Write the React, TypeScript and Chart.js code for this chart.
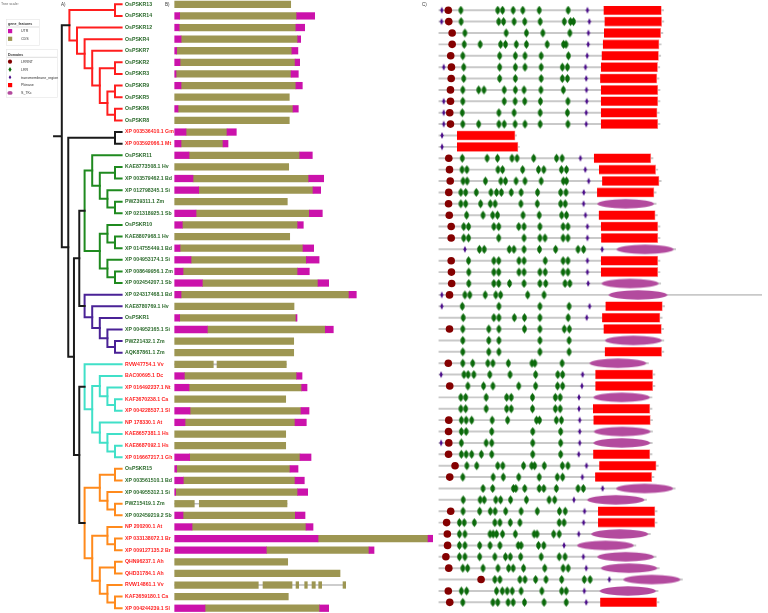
import React, { useEffect, useRef } from 'react';
import { Chart, registerables } from 'chart.js';
Chart.register(...registerables);

// ---------------- DATA ----------------
const NAMES = [
  'OsPSKR13', 'OsPSKR14', 'OsPSKR12', 'OsPSKR4', 'OsPSKR7', 'OsPSKR2', 'OsPSKR3', 'OsPSKR9', 'OsPSKR5', 'OsPSKR6', 'OsPSKR8',
  'XP 003536410.1 Gm', 'XP 003592066.1 Mt',
  'OsPSKR11', 'KAE8773508.1 Hv', 'XP 003579462.1 Bd', 'XP 012798345.1 Si', 'PWZ39311.1 Zm', 'XP 021318925.1 Sb',
  'OsPSKR10', 'KAE8807968.1 Hv', 'XP 014755449.1 Bd', 'XP 004953174.1 Si', 'XP 008649956.1 Zm', 'XP 002454207.1 Sb',
  'XP 024317468.1 Bd', 'KAE8780769.1 Hv', 'OsPSKR1', 'XP 004952165.1 Si', 'PWZ21432.1 Zm', 'AQK87861.1 Zm',
  'RVW47754.1 Vv', 'BAC00695.1 Dc', 'XP 016492237.1 Nt', 'KAF3670238.1 Ca', 'XP 004228537.1 Sl', 'NP 178330.1 At',
  'KAE8657381.1 Hs', 'KAE8687092.1 Hs', 'XP 016667217.1 Gh',
  'OsPSKR15', 'XP 003561510.1 Bd', 'XP 004955312.1 Si', 'PWZ15419.1 Zm', 'XP 002459219.2 Sb', 'NP 200200.1 At',
  'XP 033138072.1 Br', 'XP 009127135.2 Br', 'QHN96237.1 Ah', 'QHD31784.1 Ah', 'RVW14861.1 Vv', 'KAF3659180.1 Ca',
  'XP 004244239.1 Sl',
];
const MONOCOT_CODES = ['Hv', 'Bd', 'Si', 'Zm', 'Sb'];

// clade of each row: 0 red, 1 black, 2 green, 3 purple, 4 cyan, 5 orange
const CLADE_OF_ROW = [
  0, 0, 0, 0, 0, 0, 0, 0, 0, 0, 0,
  1, 1,
  2, 2, 2, 2, 2, 2, 2, 2, 2, 2, 2, 2,
  3, 3, 3, 3, 3, 3,
  4, 4, 4, 4, 4, 4, 4, 4, 4,
  5, 5, 5, 5, 5, 5, 5, 5, 5, 5, 5, 5, 5,
];

// topology (leaf = row index); ":h" after a clade = node depth override (cladogram levels)
const CLADE_RED = '((0,1),(2,(3,(4,((5,6),((7,8),(9,10)))))))';
const CLADE_BLACK = '(11,12)';
const CLADE_GREEN = '((13,((14,15),(16,(17,18)))),((19,(20,21)),(22,(23,24))))';
const CLADE_PURPLE = '(25,(26,(27,(28,(29,30)))))';
const CLADE_CYAN = '(31,((32,(33,(34,35))),(36,(37,(38,39)))))';
const CLADE_ORANGE = '(((40,41),(42,(43,44))),((45,(46,47)),((48,49),(50,(51,52)))))';
const TREE = `(${CLADE_RED},(${CLADE_BLACK},((${CLADE_GREEN},${CLADE_PURPLE}):5.7,(${CLADE_CYAN},${CLADE_ORANGE}):5.7):6.4):7.15):8`;

// gene structure: [type, start bp, end bp]  U = UTR, C = CDS
const GENE_SEGMENTS: [string, number, number][][] = [
  [['C', 0, 2900]],
  [['U', 0, 125], ['C', 125, 3050], ['U', 3050, 3500]],
  [['U', 0, 110], ['C', 110, 3030], ['U', 3030, 3250]],
  [['U', 0, 160], ['C', 160, 3075], ['U', 3075, 3150]],
  [['U', 0, 50], ['C', 50, 2930], ['U', 2930, 3080]],
  [['U', 0, 133], ['C', 133, 3010], ['U', 3010, 3125]],
  [['U', 0, 33], ['C', 33, 2910], ['U', 2910, 3090]],
  [['U', 0, 158], ['C', 158, 3030], ['U', 3030, 3190]],
  [['C', 0, 2865]],
  [['U', 0, 83], ['C', 83, 2958], ['U', 2958, 3090]],
  [['C', 0, 2865]],
  [['U', 0, 283], ['C', 283, 1308], ['U', 1308, 1540]],
  [['U', 0, 158], ['C', 158, 1208], ['U', 1208, 1333]],
  [['U', 0, 358], ['C', 358, 3125], ['U', 3125, 3440]],
  [['C', 0, 2850]],
  [['U', 0, 458], ['C', 458, 3350], ['U', 3350, 3725]],
  [['U', 0, 600], ['C', 600, 3458], ['U', 3458, 3650]],
  [['C', 0, 2815]],
  [['U', 0, 533], ['C', 533, 3365], ['U', 3365, 3690]],
  [['U', 0, 190], ['C', 190, 3075], ['U', 3075, 3215]],
  [['C', 0, 2875]],
  [['U', 0, 133], ['C', 133, 3208], ['U', 3208, 3475]],
  [['U', 0, 408], ['C', 408, 3290], ['U', 3290, 3610]],
  [['U', 0, 208], ['C', 208, 3075], ['U', 3075, 3365]],
  [['U', 0, 690], ['C', 690, 3583], ['U', 3583, 3850]],
  [['U', 0, 158], ['C', 158, 4358], ['U', 4358, 4540]],
  [['C', 0, 2983]],
  [['U', 0, 125], ['C', 125, 3033], ['U', 3033, 3058]],
  [['U', 0, 816], ['C', 816, 3765], ['U', 3765, 3965]],
  [['C', 0, 2975]],
  [['C', 0, 2975]],
  [['C', 0, 965], ['C', 1058, 2790]],
  [['U', 0, 240], ['C', 240, 3050], ['U', 3050, 3183]],
  [['U', 0, 358], ['C', 358, 3175], ['U', 3175, 3308]],
  [['C', 0, 2775]],
  [['U', 0, 383], ['C', 383, 3158], ['U', 3158, 3358]],
  [['U', 0, 258], ['C', 258, 3008], ['U', 3008, 3290]],
  [['C', 0, 2775]],
  [['C', 0, 2775]],
  [['U', 0, 375], ['C', 375, 3133], ['U', 3133, 3408]],
  [['U', 0, 50], ['C', 50, 2883], ['U', 2883, 3083]],
  [['U', 0, 215], ['C', 215, 3008], ['U', 3008, 3240]],
  [['U', 0, 25], ['C', 25, 3075], ['U', 3075, 3325]],
  [['C', 0, 490], ['C', 615, 2808]],
  [['U', 0, 208], ['C', 208, 3015], ['U', 3015, 3258]],
  [['U', 0, 433], ['C', 433, 3283], ['U', 3283, 3458]],
  [['U', 0, 3583], ['C', 3583, 6333], ['U', 6333, 6450]],
  [['U', 0, 2290], ['C', 2290, 4858], ['U', 4858, 4983]],
  [['C', 0, 2825]],
  [['C', 0, 4133]],
  [['C', 0, 2090], ['C', 2208, 2933], ['C', 3033, 3100], ['C', 3250, 3315], ['C', 3433, 3515], ['C', 3600, 3675], ['C', 4208, 4275]],
  [['C', 0, 2840]],
  [['U', 0, 758], ['C', 758, 3625], ['U', 3625, 3850]],
];

// protein domains (aa)
const PROTEIN_LEN = [
  932, 933, 929, 922, 920, 916, 913, 917, 917, 914, 917, 322, 334, 888, 908, 922, 901, 901, 906, 917, 917, 982, 917, 917, 920,
  1400, 936, 926, 932, 933, 933, 869, 896, 896, 884, 884, 886, 886, 885, 884, 910, 892, 980, 861, 905, 905, 877, 817, 901, 914,
  1010, 909, 913,
];
const LRRNT_POS = [
  39, 41, 55, 55, 49, 52, 51, 48, 48, 45, 48, null, null, 41, 44, 47, 41, 40, 43, 51, 51, null, 51, 52, 53, 44, null, null, 44,
  null, null, 39, null, 45, null, null, 41, 40, 41, 40, 67, 45, null, null, 49, 32, 35, 36, 29, 41, 175, 39, 45,
];
const LRR_POS = [
  [91, 244, 264, 308, 348, 416, 536],
  [92, 248, 268, 312, 356, 420, 520, 546, 558],
  [108, 279, 363, 431, 543],
  [105, 171, 256, 276, 321, 363, 449, 517, 527],
  [99, 252, 317, 357, 424, 537],
  [103, 252, 317, 357, 424, 512, 533],
  [103, 252, 317, 424, 512, 533],
  [99, 165, 187, 271, 317, 353, 423, 516],
  [99, 271, 316, 356, 421, 535],
  [97, 249, 312, 420, 533],
  [99, 165, 249, 271, 316, 357, 420, 535],
  [],
  [],
  [97, 200, 243, 303, 324, 393, 488, 511],
  [96, 116, 245, 264, 347, 413, 435, 508, 529],
  [100, 117, 193, 257, 276, 320, 357, 424, 516, 529],
  [91, 111, 155, 216, 239, 259, 300, 341, 409, 505, 527],
  [91, 111, 173, 213, 233, 340, 408, 505, 524],
  [115, 183, 223, 243, 349, 416, 509, 529],
  [103, 123, 228, 248, 331, 353, 419, 515, 535],
  [103, 123, 248, 353, 419, 440, 515, 535],
  [168, 188, 292, 311, 353, 417, 484, 577, 600],
  [123, 228, 248, 332, 353, 441, 515, 535],
  [124, 228, 248, 332, 353, 419, 441, 515, 535],
  [124, 228, 248, 293, 353, 419, 443, 523, 543],
  [108, 128, 192, 236, 256, 368, 436],
  [97, 249, 419, 540],
  [101, 228, 249, 313, 355, 419, 536],
  [99, 207, 249, 355, 419, 520, 541],
  [99, 207, 249, 419, 540],
  [99, 207, 249, 419, 540],
  [99, 140, 203, 224, 288, 386, 398, 511],
  [104, 121, 145, 211, 295, 401, 493, 513],
  [120, 185, 224, 331, 401, 492, 513],
  [91, 111, 196, 281, 300, 388, 483, 503],
  [91, 111, 196, 281, 300, 388, 483, 503],
  [93, 113, 136, 221, 285, 405, 417, 487, 508],
  [93, 113, 219, 389, 505],
  [93, 196, 219, 389, 505],
  [93, 113, 136, 176, 219, 389, 505],
  [116, 157, 244, 265, 351, 385, 397, 437, 512, 535],
  [99, 225, 267, 331, 416, 491, 513],
  [183, 223, 309, 319, 356, 416, 435, 487, 577, 599],
  [101, 171, 188, 236, 256, 297, 363, 457, 480],
  [100, 169, 213, 233, 277, 341, 408, 500, 524],
  [85, 105, 147, 232, 253, 296, 336, 499, 519],
  [85, 108, 212, 225, 239, 264, 317, 395, 407, 476, 499],
  [85, 108, 169, 212, 253, 329, 341, 413, 435],
  [85, 108, 169, 232, 276, 296, 339, 424, 499, 523],
  [99, 119, 183, 245, 289, 308, 351, 439, 515, 536],
  [232, 253, 336, 357, 401, 444, 509, 603, 627],
  [93, 115, 239, 263, 283, 304, 341, 427, 509, 528],
  [99, 224, 244, 287, 308, 355, 436, 528],
];
const TM_POS = [
  [12, 616], [11, 624], [620], [619], [615], [20, 608], [611], [612], [20, 613], [20, 611], [20, 611], [13], [13],
  [587], [607], [621], [601], [600], [608], [616], [616], [108, 677], [616], [616], [619],
  [12], [12, 625], [613], [], [], [],
  [], [9, 596], [593], [581], [581], [584], [584], [9, 584], [580],
  [612], [595], [679], [560], [604], [600], [580], [519], [599], [611], [707], [603], [611],
];
const PKINASE: ([number, number] | null)[] = [
  [683, 923], [687, 924], [685, 920], [680, 913], [675, 911], [672, 907], [669, 904], [672, 908], [672, 908], [672, 905], [672, 908],
  [75, 316], [75, 328],
  [643, 879], [664, 899], [677, 913], [656, 892], null, [663, 897], [672, 908], [673, 908], null, [672, 908], [672, 908], null,
  null, [691, 927], [677, 917], [683, 923], null, [688, 924],
  null, [649, 887], [649, 887], null, [639, 875], [641, 877], null, null, [640, 875],
  [665, 901], [648, 883], null, null, [660, 896], [660, 896], null, null, null, null, null, null, [669, 904],
];
const STKC: ([number, number] | null)[] = [
  null, null, null, null, null, null, null, null, null, null, null,
  null, null,
  null, null, null, null, [657, 892], null, null, null, [737, 973], null, null, [675, 911],
  [704, 947], null, null, null, [689, 924], null,
  [625, 860], null, null, [641, 875], null, null, [643, 877], [641, 876], null,
  null, null, [735, 971], [615, 852], null, null, [632, 868], [573, 808], [657, 892], [672, 905], [765, 1001], [667, 900], null,
];

const LEGEND_GENE = ['UTR', 'CDS'];
const LEGEND_DOMAINS = ['LRRNT', 'LRR', 'transmembrane_region', 'Pkinase', 'S_TKc'];

// ---------------- STYLE ----------------
const CLADE_COLORS = ['#ff1e1e', '#1a1a1a', '#1f8a1f', '#4a2296', '#40e0c8', '#ff8a1c'];
const MONO_LABEL = '#2b6a2b';
const DICOT_LABEL = '#ff2323';
const UTR_COLOR = '#cb12ab';
const CDS_COLOR = '#9d9652';
const LRRNT_COLOR = '#840000';
const LRR_COLOR = '#0b6a0b';
const TM_COLOR = '#4b0d8a';
const PK_COLOR = '#ff0000';
const STKC_COLOR = '#b34a9e';
const FONT = "'Liberation Sans', Arial, sans-serif";

const H = 613;
const Y_MIN = -0.37;
const Y_MAX = 52.41;
const TREE_W = 180;
const TREE_AREA = 122.6;
const TREE_STEP = 7.6;
const GENE_LEFT = 160, GENE_W = 280, GENE_X0 = 174.7, BP_PER_PX = 25;
const DOM_LEFT = 430, DOM_W = 338, DOM_X0 = 433, AA_PER_PX = 4;

const isMonocot = (n: string) => n.startsWith('Os') || MONOCOT_CODES.includes(n.slice(-2));

function parseTree(s: string) {
  s = s.replace(/\s+/g, '');
  let i = 0;
  const num = () => { const j = i; while (i < s.length && /[0-9.]/.test(s[i])) i++; return +s.slice(j, i); };
  const node = (): any => {
    let n: any;
    if (s[i] === '(') {
      i++;
      const ch = [node()];
      while (s[i] === ',') { i++; ch.push(node()); }
      i++;
      n = { children: ch };
    } else {
      n = { leaf: num() };
    }
    if (s[i] === ':') { i++; n.fixedH = num(); }
    return n;
  };
  return node();
}

function buildTreeDatasets() {
  const root = parseTree(TREE);
  const lay = (n: any) => {
    if (n.leaf !== undefined) { n.h = 0; n.y = n.leaf; n.clade = CLADE_OF_ROW[n.leaf]; return; }
    n.children.forEach(lay);
    n.h = n.fixedH !== undefined ? n.fixedH : 1 + Math.max(...n.children.map((c: any) => c.h));
    n.y = (n.children[0].y + n.children[n.children.length - 1].y) / 2;
    const c0 = n.children[0].clade;
    n.clade = n.children.every((c: any) => c.clade === c0) ? c0 : -1;
  };
  lay(root);
  const ds: any[] = [];
  const emit = (n: any) => {
    if (!n.children) return;
    const color = n.clade >= 0 ? CLADE_COLORS[n.clade] : '#1a1a1a';
    const f = n.children[0], l = n.children[n.children.length - 1];
    const pts: any[] = [{ x: f.h, y: f.y }, { x: n.h, y: f.y }, { x: n.h, y: l.y }, { x: l.h, y: l.y }];
    n.children.slice(1, -1).forEach((c: any) => { pts.push({ x: null, y: null }, { x: n.h, y: c.y }, { x: c.h, y: c.y }); });
    ds.push({ data: pts, borderColor: color, borderWidth: 2, pointRadius: 0, spanGaps: false, borderJoinStyle: 'miter', borderCapStyle: 'square' });
    n.children.forEach(emit);
  };
  emit(root);
  ds.push({ data: [{ x: root.h, y: root.y }, { x: root.h + 1.15, y: root.y }], borderColor: '#1a1a1a', borderWidth: 2, pointRadius: 0 });
  return ds;
}

const shapeCache: Record<string, HTMLCanvasElement> = {};
function shape(kind: string, w: number, h: number, color: string) {
  const key = `${kind}-${w.toFixed(1)}-${h}-${color}`;
  if (shapeCache[key]) return shapeCache[key];
  const c = document.createElement('canvas');
  c.width = Math.ceil(w) + 2;
  c.height = Math.ceil(h) + 2;
  const g = c.getContext('2d')!;
  const cx = c.width / 2, cy = c.height / 2;
  g.fillStyle = color;
  g.beginPath();
  if (kind === 'ellipse') {
    g.ellipse(cx, cy, w / 2, h / 2, 0, 0, Math.PI * 2);
  } else if (kind === 'lrr') {
    g.moveTo(cx, cy - h / 2);
    g.lineTo(cx + w / 2, cy - h * 0.17);
    g.lineTo(cx + w / 2, cy + h * 0.17);
    g.lineTo(cx, cy + h / 2);
    g.lineTo(cx - w / 2, cy + h * 0.17);
    g.lineTo(cx - w / 2, cy - h * 0.17);
  } else {
    g.moveTo(cx, cy - h / 2);
    g.lineTo(cx + w / 2, cy);
    g.lineTo(cx, cy + h / 2);
    g.lineTo(cx - w / 2, cy);
  }
  g.closePath();
  g.fill();
  shapeCache[key] = c;
  return c;
}

const baseOpts = {
  animation: false as const,
  responsive: false,
  maintainAspectRatio: false,
  layout: { padding: 0 },
  plugins: { legend: { display: false }, tooltip: { enabled: false } },
  events: [] as any[],
};
const yHidden = { type: 'linear' as const, reverse: true, min: Y_MIN, max: Y_MAX, display: false, offset: false, grace: 0 };

export default function App() {
  const treeRef = useRef<HTMLCanvasElement>(null);
  const geneRef = useRef<HTMLCanvasElement>(null);
  const domRef = useRef<HTMLCanvasElement>(null);

  useEffect(() => {
    const charts: Chart[] = [];

    // ---- Tree ----
    charts.push(new Chart(treeRef.current!, {
      type: 'line',
      data: { datasets: buildTreeDatasets() },
      options: {
        ...baseOpts,
        scales: {
          x: { type: 'linear', reverse: true, min: 0, max: TREE_AREA / TREE_STEP, display: false },
          y: {
            type: 'linear', position: 'right', reverse: true, min: Y_MIN, max: Y_MAX,
            grid: { display: false, drawTicks: false }, border: { display: false },
            afterBuildTicks: (s: any) => { s.ticks = NAMES.map((_, i) => ({ value: i })); },
            afterFit: (s: any) => { s.width = TREE_W - TREE_AREA; s.paddingTop = 0; s.paddingBottom = 0; },
            ticks: {
              autoSkip: false, padding: 2.4,
              font: { family: FONT, size: 5.2, weight: 'bold' },
              color: (ctx: any) => (isMonocot(NAMES[ctx.tick.value]) ? MONO_LABEL : DICOT_LABEL),
              callback: (v: any) => NAMES[v],
            },
          },
        },
      } as any,
    }));

    // ---- Gene structure ----
    const utr: any[] = [], cds: any[] = [], intron: any[] = [];
    GENE_SEGMENTS.forEach((segs, i) => {
      segs.forEach(([t, s, e]) => (t === 'U' ? utr : cds).push({ x: [s, e], y: i }));
      if (segs.filter(s => s[0] === 'C').length > 1) intron.push({ x: [segs[0][1], segs[segs.length - 1][2]], y: i });
    });
    const gx0 = -(GENE_X0 - GENE_LEFT) * BP_PER_PX;
    charts.push(new Chart(geneRef.current!, {
      type: 'bar',
      data: {
        datasets: [
          { label: 'UTR', data: utr, backgroundColor: UTR_COLOR, barThickness: 6.6, grouped: false, order: 1 },
          { label: 'CDS', data: cds, backgroundColor: CDS_COLOR, barThickness: 6.6, grouped: false, order: 1 },
          { label: 'intron', data: intron, backgroundColor: '#bdbdbd', barThickness: 1, grouped: false, order: 5 },
        ],
      },
      options: {
        ...baseOpts,
        indexAxis: 'y',
        scales: {
          x: { type: 'linear', min: gx0, max: gx0 + GENE_W * BP_PER_PX, display: false, offset: false },
          y: yHidden,
        },
      } as any,
    }));

    // ---- Domains ----
    const backbone = PROTEIN_LEN.map((l, i) => ({ x: [0, l], y: i }));
    const pk: any[] = [], stkc: any[] = [], lrrnt: any[] = [], lrr: any[] = [], tm: any[] = [];
    PKINASE.forEach((r, i) => { if (r) pk.push({ x: r, y: i }); });
    STKC.forEach((r, i) => { if (r) stkc.push({ x: (r[0] + r[1]) / 2, y: i, s: r[0], e: r[1] }); });
    LRRNT_POS.forEach((p, i) => { if (p !== null) lrrnt.push({ x: p, y: i }); });
    LRR_POS.forEach((arr, i) => arr.forEach(p => lrr.push({ x: p, y: i })));
    TM_POS.forEach((arr, i) => arr.forEach(p => tm.push({ x: p, y: i })));
    const dx0 = -(DOM_X0 - DOM_LEFT) * AA_PER_PX;
    charts.push(new Chart(domRef.current!, {
      type: 'bar',
      data: {
        datasets: [
          { type: 'scatter', label: 'LRRNT', data: lrrnt, pointStyle: 'circle', pointRadius: 3.8, backgroundColor: LRRNT_COLOR, borderWidth: 0, order: 1 },
          { type: 'scatter', label: 'transmembrane_region', data: tm, pointRadius: 3, pointStyle: () => shape('diamond', 3.2, 7, TM_COLOR), order: 2 },
          { type: 'scatter', label: 'LRR', data: lrr, pointRadius: 3, pointStyle: () => shape('lrr', 4.4, 8.8, LRR_COLOR), order: 3 },
          {
            type: 'scatter', label: 'S_TKc', data: stkc, pointRadius: 5, order: 4,
            pointStyle: (ctx: any) => {
              const r = ctx.raw; const sc = ctx.chart.scales.x;
              if (!r || !sc) return 'circle';
              const w = Math.abs(sc.getPixelForValue(r.e) - sc.getPixelForValue(r.s));
              return shape('ellipse', w, 9.4, STKC_COLOR);
            },
          },
          { type: 'bar', label: 'Pkinase', data: pk, backgroundColor: PK_COLOR, borderColor: '#ff8f8f', borderWidth: 0.8, barThickness: 9.4, grouped: false, order: 5 },
          { type: 'bar', label: 'protein', data: backbone, backgroundColor: '#c9c9c9', barThickness: 1.3, grouped: false, order: 10 },
        ],
      },
      options: {
        ...baseOpts,
        indexAxis: 'y',
        scales: {
          x: { type: 'linear', min: dx0, max: dx0 + DOM_W * AA_PER_PX, display: false, offset: false },
          y: yHidden,
        },
      } as any,
    }));

    return () => charts.forEach(c => c.destroy());
  }, []);

  const legendTxt = { fontFamily: FONT, fontSize: 3.6, fill: '#333' } as any;
  return (
    <div style={{ position: 'fixed', left: 0, top: 0, width: 768, height: H, background: '#fff', overflow: 'hidden' }}>
      <canvas ref={treeRef} width={TREE_W} height={H} style={{ position: 'absolute', left: 0, top: 0, width: TREE_W, height: H }} />
      <canvas ref={geneRef} width={GENE_W} height={H} style={{ position: 'absolute', left: GENE_LEFT, top: 0, width: GENE_W, height: H }} />
      <canvas ref={domRef} width={DOM_W} height={H} style={{ position: 'absolute', left: DOM_LEFT, top: 0, width: DOM_W, height: H }} />
      <svg width={768} height={H} style={{ position: 'absolute', left: 0, top: 0, pointerEvents: 'none' }}>
        <text x={1} y={5} {...legendTxt} fill="#666">Tree scale:</text>
        <text x={61} y={6} {...legendTxt} fontSize={4.5}>A)</text>
        <text x={165} y={6} {...legendTxt} fontSize={4.5}>B)</text>
        <text x={422} y={6} {...legendTxt} fontSize={4.5}>C)</text>
        <rect x={6.5} y={19.5} width={33} height={26} fill="none" stroke="#e4e4e4" strokeWidth={0.6} />
        <text x={8} y={25.3} {...legendTxt} fontWeight="bold">gene_features</text>
        <line x1={7} x2={39} y1={27} y2={27} stroke="#bbb" strokeWidth={0.5} />
        {LEGEND_GENE.map((n, i) => (
          <g key={n}>
            <rect x={8} y={29 + i * 7.7} width={4.2} height={4.2} fill={i === 0 ? UTR_COLOR : CDS_COLOR} />
            <text x={21} y={32.4 + i * 7.7} {...legendTxt}>{n}</text>
          </g>
        ))}
        <rect x={6.5} y={49.5} width={51} height={48} fill="none" stroke="#e4e4e4" strokeWidth={0.6} />
        <text x={8} y={55.6} {...legendTxt} fontWeight="bold">Domains</text>
        <line x1={7} x2={57} y1={57.3} y2={57.3} stroke="#bbb" strokeWidth={0.5} />
        {LEGEND_DOMAINS.map((n, i) => {
          const cy = 61.7 + i * 7.8;
          let sym: any;
          if (i === 0) sym = <circle cx={10} cy={cy} r={2.1} fill={LRRNT_COLOR} />;
          else if (i === 1) sym = <path d={`M10 ${cy - 2.4} L11.6 ${cy} L10 ${cy + 2.4} L8.4 ${cy} Z`} fill={LRR_COLOR} />;
          else if (i === 2) sym = <path d={`M10 ${cy - 2} L11.3 ${cy} L10 ${cy + 2} L8.7 ${cy} Z`} fill={TM_COLOR} />;
          else if (i === 3) sym = <rect x={8} y={cy - 2.1} width={4.2} height={4.2} fill={PK_COLOR} />;
          else sym = <ellipse cx={10} cy={cy} rx={2.6} ry={1.9} fill={STKC_COLOR} />;
          return (
            <g key={n}>
              {sym}
              <text x={21} y={cy + 1.3} {...legendTxt}>{n}</text>
            </g>
          );
        })}
      </svg>
    </div>
  );
}
